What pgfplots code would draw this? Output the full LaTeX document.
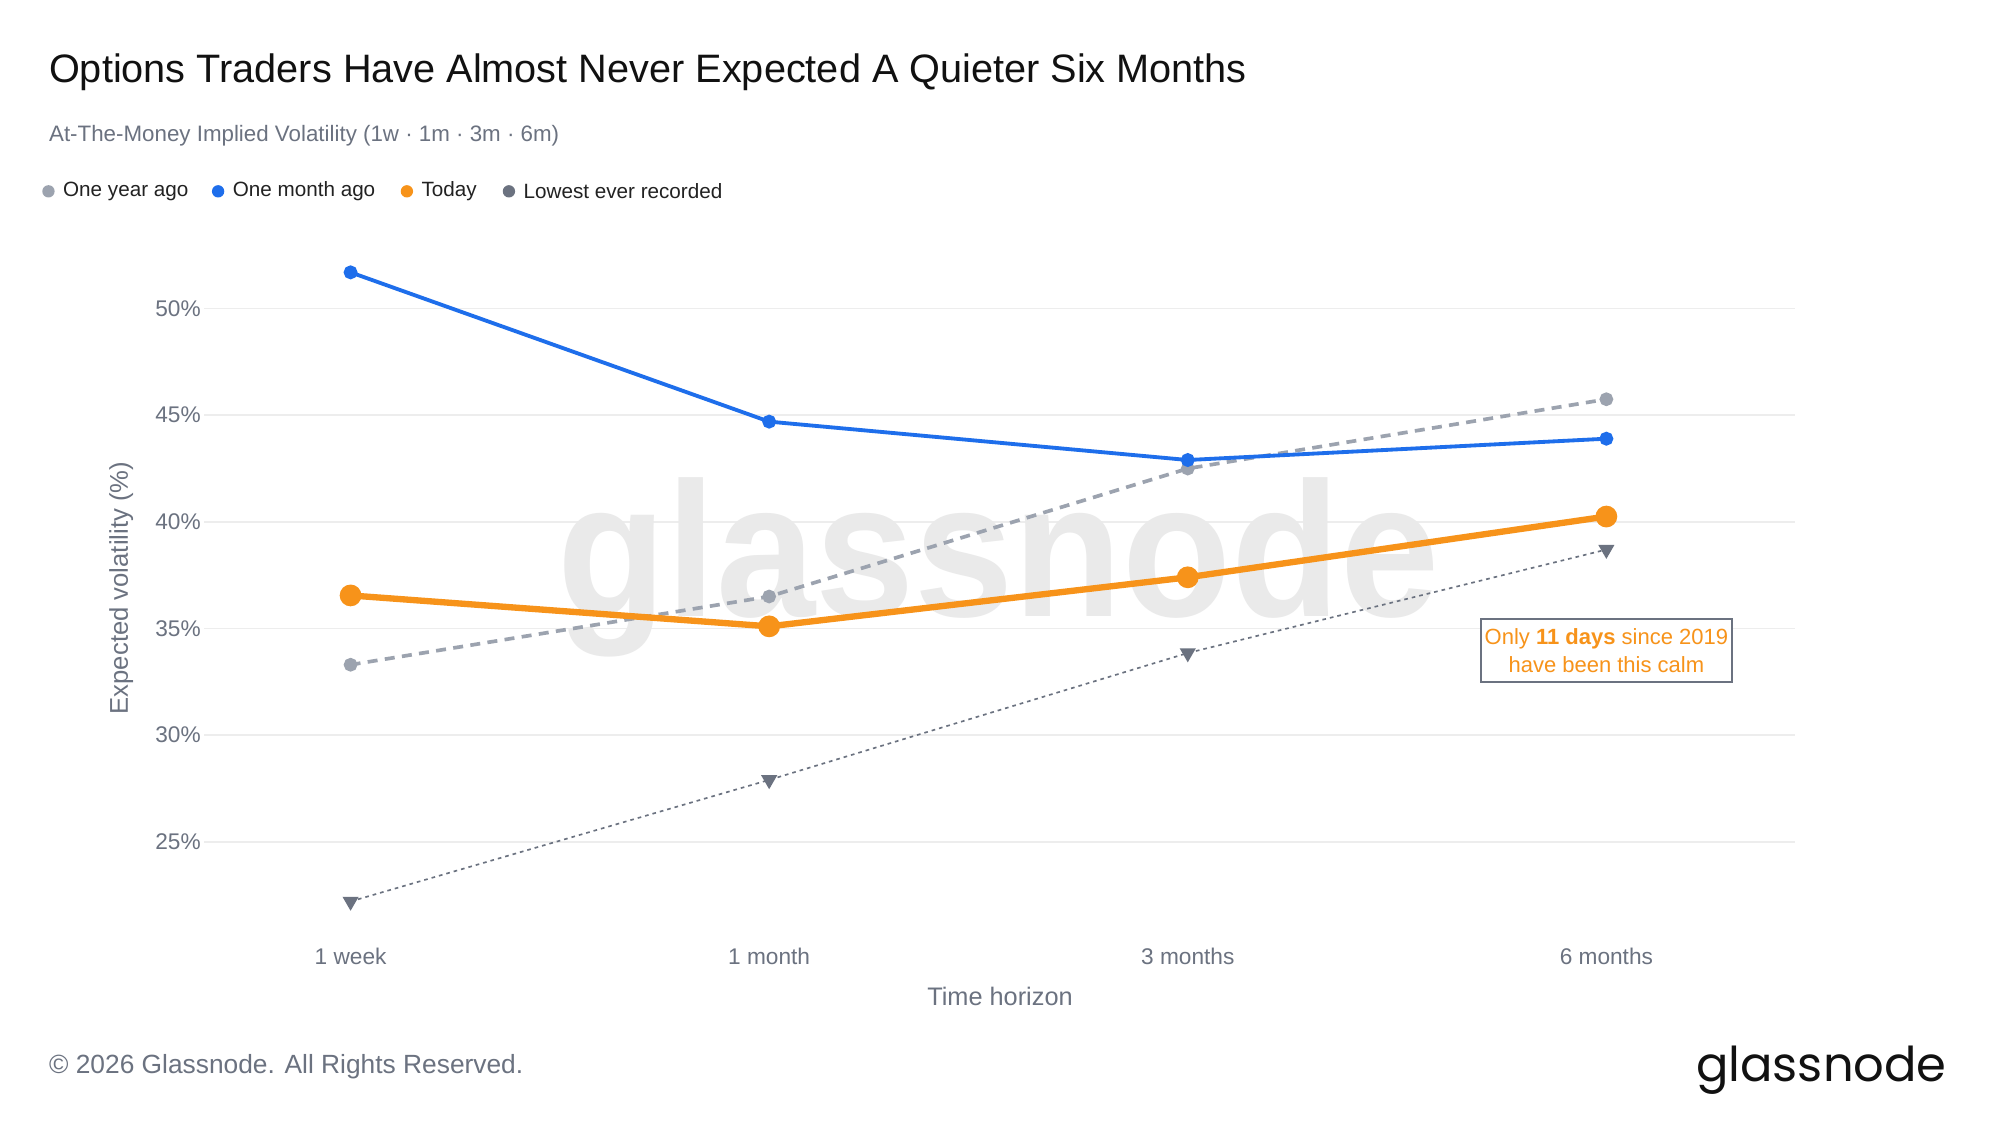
\documentclass[border=0pt]{standalone}
\usepackage{pgfplots}
\pgfplotsset{compat=1.18}
\usepackage{fontspec}
\setmainfont{Liberation Sans}
\newfontfamily\logofont{Poppins}
\definecolor{cblue}{HTML}{1E6EEB}
\definecolor{corange}{HTML}{F7931A}
\definecolor{cyear}{HTML}{9CA3AF}
\definecolor{clow}{HTML}{6B7280}
\definecolor{cgrid}{HTML}{EDEDED}
\definecolor{ctick}{HTML}{6B7280}
\definecolor{cwm}{HTML}{EAEAEA}
\definecolor{ctitle}{HTML}{111111}
\definecolor{clegend}{HTML}{222222}
\pgfplotstableread{
x year month today low
0 33.3 51.7 36.55 22.2
1 36.5 44.7 35.1 27.9
2 42.5 42.9 37.4 33.85
3 45.75 43.9 40.25 38.7
}\voldata
\begin{document}
\begin{tikzpicture}
\fill[white] (0,0) rectangle (600pt,337.5pt);
\path[use as bounding box] (0,0) rectangle (600pt,337.5pt);
% title, subtitle
\node[anchor=base west, inner sep=0, font=\fontsize{11.9}{13}\selectfont, text=ctitle] at (14.54pt,312.6pt) {Options Traders Have Almost Never Expected A Quieter Six Months};
\node[anchor=base west, inner sep=0, font=\fontsize{6.7}{8}\selectfont, text=ctick] at (14.54pt,295.0pt) {At-The-Money Implied Volatility (1w · 1m · 3m · 6m)};
% legend
\begin{scope}[every node/.style={anchor=west, inner sep=0, font=\fontsize{6.2}{8}\selectfont, text=clegend}]
\fill[cyear] (14.54pt,280.1pt) circle (1.85pt);
\node at (18.75pt,280.1pt) {One year ago};
\fill[cblue] (65.43pt,280.1pt) circle (1.85pt);
\node at (69.64pt,280.1pt) {One month ago};
\fill[corange] (122.07pt,280.1pt) circle (1.85pt);
\node at (126.27pt,280.1pt) {Today};
\fill[clow] (152.68pt,280.1pt) circle (1.85pt);
\node at (156.89pt,280.1pt) {Lowest ever recorded};
\end{scope}
% axis labels
\node[rotate=90, inner sep=0, font=\fontsize{7.7}{9}\selectfont, text=ctick] at (36.35pt,161.1pt) {Expected volatility (\%)};
\node[inner sep=0, font=\fontsize{7.6}{9}\selectfont, text=ctick] at (300pt,38.65pt) {Time horizon};
% footer
\node[anchor=base west, inner sep=0, font=\fontsize{7.9}{10}\selectfont, text=ctick] at (14.54pt,15.5pt) {© 2026 Glassnode. All Rights Reserved.};
\node[anchor=base east, inner sep=0, font=\logofont\fontsize{14.4}{16}\selectfont, text=ctitle] at (584.2pt,13pt) {glassnode};
\begin{axis}[
  at={(61.22pt,58.17pt)}, anchor=south west,
  scale only axis, width=477.2pt, height=202.8pt,
  xmin=-0.35, xmax=3.45, ymin=20.81, ymax=52.51,
  axis line style={draw=none}, tick style={draw=none},
  xtick={0,1,2,3}, xticklabels={1 week,1 month,3 months,6 months},
  ytick={25,30,35,40,45,50}, yticklabels={25\%,30\%,35\%,40\%,45\%,50\%},
  ymajorgrids, major grid style={cgrid, line width=0.5pt},
  xticklabel style={anchor=base, yshift=-9.95pt, inner sep=0, font=\fontsize{6.8}{8}\selectfont, text=ctick},
  yticklabel style={anchor=east, inner sep=0, xshift=-0.8pt, font=\fontsize{6.8}{8}\selectfont, text=ctick},
  /pgf/number format/assume math mode=true,
  clip=false,
]
\node[anchor=base, inner sep=0, text=cwm, xscale=0.93, font=\bfseries\fontsize{57.5}{58}\selectfont] at (rel axis cs:0.4995,0.466) {glassnode};
\addplot[cyear, line width=1.1pt, dash pattern=on 3pt off 2.2pt, mark=*, mark size=1.5pt, mark options={solid}] table[x=x, y=year] {\voldata};
\addplot[clow, line width=0.5pt, dash pattern=on 1.1pt off 1.2pt, mark=triangle*, mark size=2.3pt, mark options={solid, rotate=180}] table[x=x, y=low] {\voldata};
\addplot[cblue, line width=1.15pt, mark=*, mark size=1.5pt] table[x=x, y=month] {\voldata};
\addplot[corange, line width=1.9pt, mark=*, mark size=2.3pt] table[x=x, y=today] {\voldata};
\node[draw=clow, fill=white, line width=0.5pt, align=center, text=corange, font=\fontsize{6.6}{8.5}\selectfont, minimum width=75.4pt, minimum height=18.75pt, inner sep=1pt] at (axis cs:3,33.97) {Only \textbf{11 days} since 2019\\have been this calm};
\end{axis}
\end{tikzpicture}
\end{document}
